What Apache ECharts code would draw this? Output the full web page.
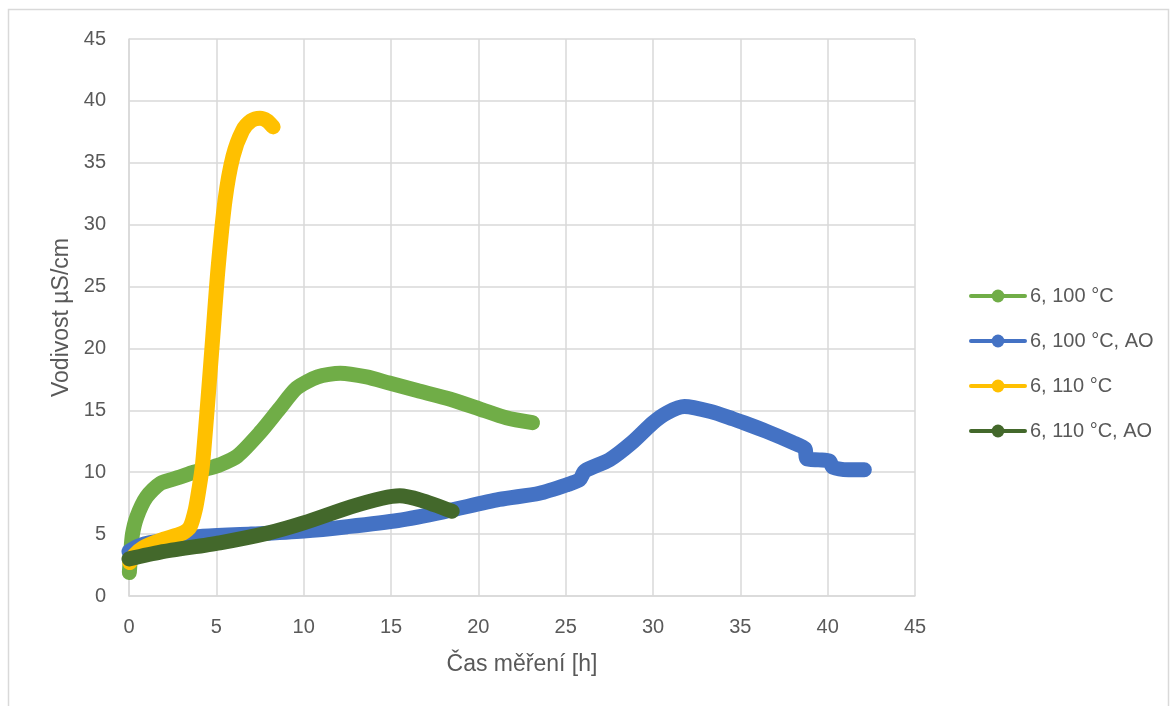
<!DOCTYPE html>
<html>
<head>
<meta charset="utf-8">
<script src="https://cdn.jsdelivr.net/npm/echarts@6/dist/echarts.min.js"></script>
<style>
html,body{margin:0;padding:0;background:#fff;}
#c{width:1170px;height:706px;}
</style>
</head>
<body>
<div id="c"></div>
<script>
var seriesNames = ['6, 100 °C', '6, 100 °C, AO', '6, 110 °C', '6, 110 °C, AO'];
var xTicks = [0, 5, 10, 15, 20, 25, 30, 35, 40, 45];
var yTicks = [0, 5, 10, 15, 20, 25, 30, 35, 40, 45];

var green100 = [
  [0.02,1.9],[0.1,3.5],[0.2,5.0],[0.45,6.4],[1.0,8.0],[1.8,9.1],[2.9,9.6],[3.7,10.0],
  [4.5,10.3],[5.2,10.6],[6.2,11.3],[7.5,13.2],[8.6,15.1],[9.6,16.8],[10.8,17.7],[12.1,18.0],
  [13.6,17.7],[14.9,17.2],[16.5,16.6],[18.4,15.9],[20.1,15.1],[21.6,14.4],[23.1,14.0]
];
var blue100AO = [
  [0,3.6],[0.5,4.0],[1.2,4.3],[4.1,4.8],[7,5.0],[10,5.25],[12.5,5.6],[15.4,6.1],[18,6.8],
  [21.2,7.8],[23.5,8.3],[25.1,9.0],[25.8,9.4],[26.1,10.1],[27.5,11.0],[28.8,12.4],[30.0,14.0],
  [30.8,14.8],[31.8,15.3],[33.3,14.9],[34.6,14.3],[35,14.1],[36.5,13.3],[38,12.4],[38.7,11.9],
  [38.8,11.1],[39.5,11.0],[40.1,10.9],[40.3,10.4],[41.2,10.2],[42.1,10.2]
];
var yellow110 = [
  [0.05,2.7],[0.3,3.3],[0.8,3.9],[1.8,4.5],[3.1,5.1],[3.5,5.6],[3.8,7.0],[4.0,8.6],[4.2,10.5],
  [4.5,15.5],[4.8,21.0],[5.1,26.5],[5.5,32.0],[5.95,35.5],[6.5,37.6],[7.0,38.4],[7.5,38.6],
  [7.9,38.4],[8.25,37.9]
];
var dark110AO = [
  [0,3.0],[1.8,3.55],[5.2,4.3],[8,5.1],[10,5.9],[12.7,7.2],[14.5,7.9],[15.5,8.1],[16.7,7.75],[18.5,6.85]
];

var colors = ['#70AD47', '#4472C4', '#FFC000', '#43682B'];
var datasets = [green100, blue100AO, yellow110, dark110AO];
var FONT = 'Liberation Sans';
var TXT = '#595959';
var GRIDC = '#d9d9d9';

var chart = echarts.init(document.getElementById('c'), null, {renderer: 'canvas'});
chart.setOption({
  animation: false,
  backgroundColor: '#fff',
  color: colors,
  graphic: [{
    type: 'rect', silent: true, z: -1,
    shape: {x: 8.5, y: 9.5, width: 1160, height: 720},
    style: {fill: 'none', stroke: GRIDC, lineWidth: 1.5}
  }],
  grid: {left: 129, right: 255, top: 39, bottom: 110, containLabel: false},
  legend: {
    orient: 'vertical', left: 969, top: 286, padding: 0,
    itemWidth: 54, itemHeight: 16, itemGap: 25,
    data: seriesNames,
    lineStyle: {width: 4},
    textStyle: {fontFamily: FONT, fontSize: 20, color: TXT}
  },
  xAxis: {
    type: 'value', min: 0, max: 45, interval: 5,
    name: 'Čas měření [h]', nameLocation: 'middle', nameGap: 57,
    nameTextStyle: {fontFamily: FONT, fontSize: 23, color: TXT},
    axisLine: {show: true, lineStyle: {color: GRIDC, width: 1.5}},
    axisTick: {show: false},
    splitLine: {show: true, lineStyle: {color: GRIDC, width: 1.5}},
    axisLabel: {fontFamily: FONT, fontSize: 20, color: TXT, margin: 21,
      formatter: function (v) { return xTicks.indexOf(v) >= 0 ? String(v) : ''; }}
  },
  yAxis: {
    type: 'value', min: 0, max: 45, interval: 5,
    name: 'Vodivost µS/cm', nameLocation: 'middle', nameGap: 56,
    nameTextStyle: {fontFamily: FONT, fontSize: 23, color: TXT},
    axisLine: {show: true, lineStyle: {color: GRIDC, width: 1.5}},
    axisTick: {show: false},
    splitLine: {show: true, lineStyle: {color: GRIDC, width: 1.5}},
    axisLabel: {fontFamily: FONT, fontSize: 20, color: TXT, margin: 23,
      formatter: function (v) { return yTicks.indexOf(v) >= 0 ? String(v) : ''; }}
  },
  series: seriesNames.map(function (n, i) {
    return {
      name: n, type: 'line', data: datasets[i],
      smooth: 0.25, symbol: 'circle', symbolSize: 16, showSymbol: false,
      lineStyle: {width: 15, color: colors[i], cap: 'round', join: 'round'},
      itemStyle: {color: colors[i]},
      emphasis: {disabled: true}
    };
  })
});
</script>
</body>
</html>
